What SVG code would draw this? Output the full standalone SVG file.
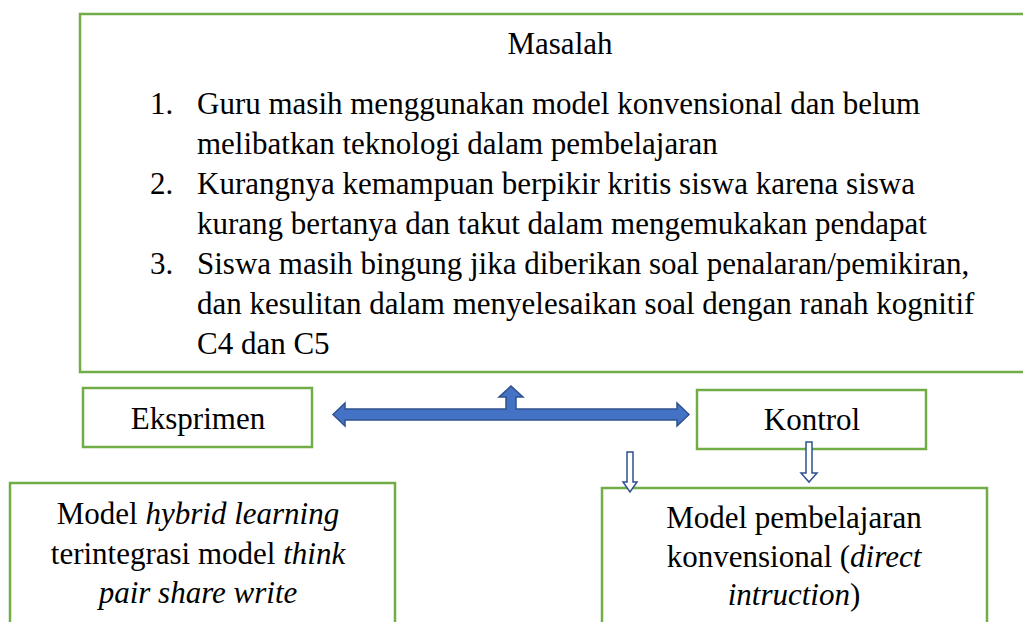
<svg xmlns="http://www.w3.org/2000/svg" width="1023" height="622" viewBox="0 0 1023 622">
<style>
.box{fill:#fff;stroke:#70AD47;stroke-width:2.5}
.c{text-anchor:middle}
.big{fill:#4472C4;stroke:#2F528F;stroke-width:1.5;stroke-linejoin:miter}
.hol{fill:#fff;stroke:#2F528F;stroke-width:1.5}
</style>
<rect width="1023" height="622" fill="#fff"/>
<g font-family="Liberation Serif, DejaVu Serif, serif" font-size="31" fill="#000">
<g id="masalah">
<rect class="box" x="80" y="14" width="960" height="358"/>
<text class="c" x="560" y="54">Masalah</text>
<text x="150" y="114">1.</text>
<text x="197" y="114">Guru masih menggunakan model konvensional dan belum</text>
<text x="197" y="154">melibatkan teknologi dalam pembelajaran</text>
<text x="150" y="194">2.</text>
<text x="197" y="194">Kurangnya kemampuan berpikir kritis siswa karena siswa</text>
<text x="197" y="234">kurang bertanya dan takut dalam mengemukakan pendapat</text>
<text x="150" y="274">3.</text>
<text x="197" y="274">Siswa masih bingung jika diberikan soal penalaran/pemikiran,</text>
<text x="197" y="314">dan kesulitan dalam menyelesaikan soal dengan ranah kognitif</text>
<text x="197" y="354">C4 dan C5</text>
</g>
<g id="eksprimen">
<rect class="box" x="83" y="388" width="229" height="59"/>
<text class="c" x="198" y="429">Eksprimen</text>
</g>
<g id="kontrol">
<rect class="box" x="697" y="390" width="229" height="59"/>
<text class="c" x="812" y="430">Kontrol</text>
</g>
<g id="model-hybrid">
<rect class="box" x="10" y="483" width="385" height="160"/>
<text class="c" x="198" y="524">Model <tspan font-style="italic">hybrid learning</tspan></text>
<text class="c" x="198" y="564">terintegrasi model <tspan font-style="italic">think</tspan></text>
<text class="c" x="198" y="603" font-style="italic">pair share write</text>
</g>
<g id="model-konvensional">
<rect class="box" x="602" y="488" width="385" height="160"/>
<text class="c" x="794" y="528">Model pembelajaran</text>
<text class="c" x="794" y="567">konvensional (<tspan font-style="italic">direct</tspan></text>
<text class="c" x="794" y="605"><tspan font-style="italic">intruction</tspan>)</text>
</g>
</g>
<g id="connectors">
<polygon class="big" points="333,414.5 345,403 345,409 506,409 506,397 499,397 511,386 523,397 516,397 516,409 677,409 677,403 689,414.5 677,426 677,420 345,420 345,426"/>
<polygon class="hol" points="627,452 633,452 633,482 637,482 630,492 623,482 627,482"/>
<polygon class="hol" points="806,442 812,442 812,473 817,473 809,482 801,473 806,473"/>
</g>
</svg>
